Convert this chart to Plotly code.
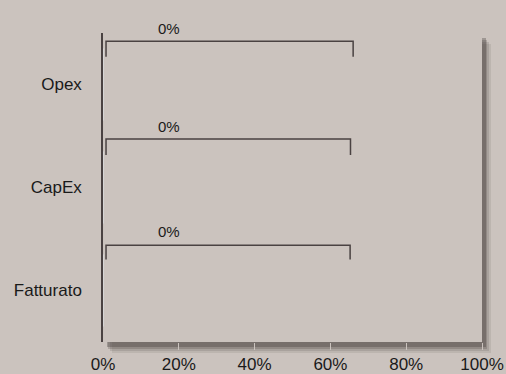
import plotly.graph_objects as go

# categories, bottom to top
categories = ["Fatturato", "CapEx", "Opex"]
values = [0, 0, 0]
value_labels = ["0%", "0%", "0%"]
bracket_start = [0.008, 0.008, 0.008]
bracket_end = [0.652, 0.653, 0.66]
x_ticks = [0, 0.2, 0.4, 0.6, 0.8, 1.0]
x_tick_labels = ["0%", "20%", "40%", "60%", "80%", "100%"]

BG = "#cbc3be"
LINE = "#4a4242"
FONT = "Liberation Sans, Arial, sans-serif"
Y_RANGE = [-0.5, 2.5]

# vertical offsets of each bracket from its category centre
top_off = [0.44, 0.47, 0.42]
leg_off = [0.30, 0.315, 0.27]
label_off = [0.573, 0.597, 0.54]

fig = go.Figure()

fig.add_trace(
    go.Bar(
        x=values,
        y=list(range(len(categories))),
        orientation="h",
        marker={"color": LINE},
        hoverinfo="skip",
        showlegend=False,
    )
)

for i in range(len(categories)):
    fig.add_trace(
        go.Scatter(
            x=[bracket_start[i], bracket_start[i], bracket_end[i], bracket_end[i]],
            y=[i + leg_off[i], i + top_off[i], i + top_off[i], i + leg_off[i]],
            mode="lines",
            line={"color": LINE, "width": 1.5},
            hoverinfo="skip",
            showlegend=False,
        )
    )
    # paper ref so the top label is not hidden when it sits above the axis range
    fig.add_annotation(
        x=0.175,
        xref="x",
        y=(i + label_off[i] - Y_RANGE[0]) / (Y_RANGE[1] - Y_RANGE[0]),
        yref="paper",
        yanchor="middle",
        xanchor="center",
        text=value_labels[i],
        showarrow=False,
        font={"size": 15, "color": "#1a1a1a", "family": FONT},
    )

# soft drop shadow along the right and bottom edges of the plot area
W, H = 379, 309
for dx, dy, op in [(9, 11, 0.10), (7, 9, 0.15), (5, 7, 0.22), (4, 5, 0.32)]:
    fig.add_shape(
        type="rect", xref="paper", yref="paper",
        x0=1.0, x1=1.0 + dx / W, y0=-dy / H, y1=1.0 - dy / H,
        fillcolor="#3e3834", opacity=op, line={"width": 0}, layer="below",
    )
    fig.add_shape(
        type="rect", xref="paper", yref="paper",
        x0=dx / W, x1=1.0, y0=-dy / H, y1=0.0,
        fillcolor="#3e3834", opacity=op, line={"width": 0}, layer="below",
    )

fig.update_layout(
    width=506,
    height=374,
    margin={"l": 103, "r": 24, "t": 33, "b": 32},
    paper_bgcolor=BG,
    plot_bgcolor=BG,
    font={"family": FONT, "size": 17, "color": "#1a1a1a"},
    bargap=0.3,
)

fig.update_xaxes(
    range=[0, 1],
    tickvals=x_ticks,
    ticktext=x_tick_labels,
    showgrid=False,
    zeroline=False,
    showline=False,
    ticks="outside",
    ticklen=7,
    tickcolor=BG,
    automargin=False,
    fixedrange=True,
)

fig.update_yaxes(
    range=Y_RANGE,
    tickvals=list(range(len(categories))),
    ticktext=categories,
    showgrid=False,
    zeroline=False,
    showline=True,
    linecolor=LINE,
    linewidth=1.5,
    ticks="outside",
    ticklen=16,
    tickcolor="rgba(0,0,0,0)",
    automargin=False,
    fixedrange=True,
)

fig.write_html(
    "out.html",
    config={"displayModeBar": False},
    post_script="document.body.style.margin='0';document.body.style.background='" + BG + "';",
)
